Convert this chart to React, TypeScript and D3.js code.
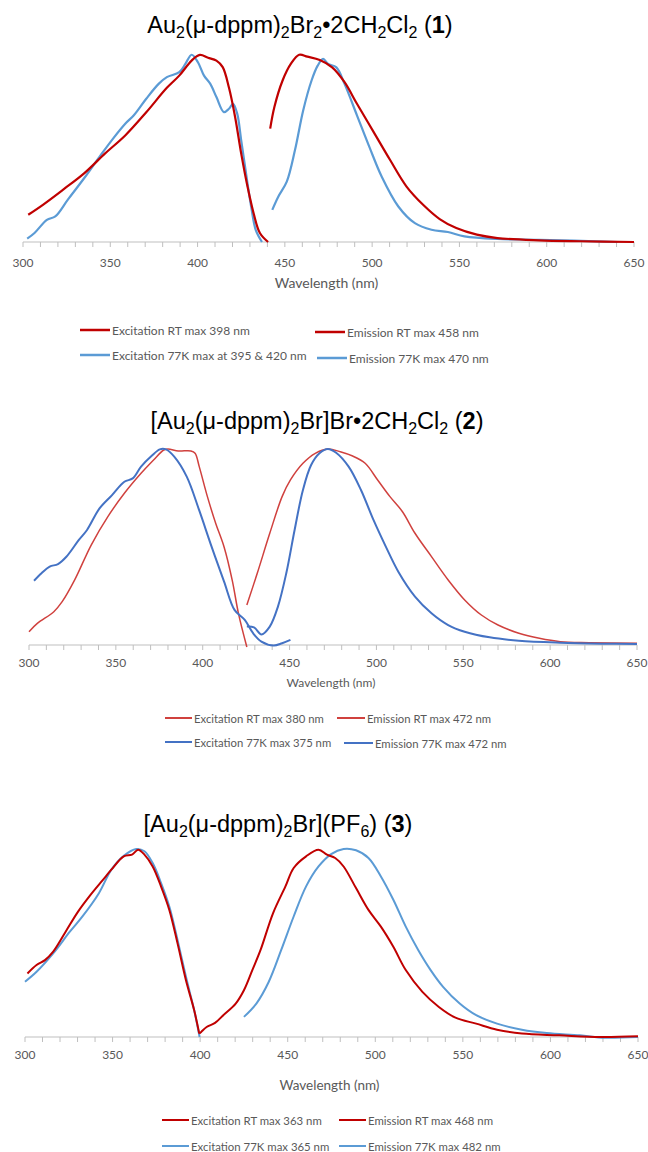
import React from "react";
import * as d3 from "d3";

type Pt = [number, number];

// wavelength (nm), normalised intensity
const p1ExcRT: Pt[] = [[303,0.145],[311.4,0.198],[323.2,0.28],[335,0.365],[346.9,0.47],[358.7,0.568],[370.6,0.69],[382.4,0.82],[389.5,0.885],[396.6,0.965],[401.3,0.995],[406,0.98],[410.8,0.965],[414.4,0.93],[418,0.82],[421.5,0.665],[425,0.47],[428.6,0.295],[432.1,0.153],[435.7,0.048],[440.4,0]];
const p1Exc77: Pt[] = [[302.4,0.018],[306.6,0.048],[313.7,0.118],[318.5,0.136],[325.6,0.224],[335,0.339],[344.5,0.462],[351.6,0.55],[358.7,0.63],[363.5,0.674],[370.6,0.762],[377.7,0.841],[382.4,0.877],[389.5,0.903],[393,0.947],[396.6,0.996],[400.2,0.956],[403.7,0.885],[407.3,0.841],[410.8,0.771],[415.1,0.691],[418,0.709],[420.3,0.735],[422.7,0.683],[425,0.541],[428.6,0.312],[431,0.171],[433.3,0.065],[436.9,0]];
const p1EmRT: Pt[] = [[441.6,0.603],[444,0.718],[448.7,0.859],[453.4,0.947],[458.2,0.996],[462.9,0.986],[470,0.968],[477.1,0.929],[484.2,0.85],[491.3,0.735],[500.8,0.586],[510.3,0.436],[519.7,0.295],[529.2,0.198],[538.7,0.122],[548.2,0.074],[560,0.039],[571.8,0.021],[595.5,0.009],[619.2,0.004],[650,0]];
const p1Em77: Pt[] = [[442.8,0.171],[446.3,0.242],[451.1,0.321],[455.8,0.489],[460.5,0.7],[465.3,0.859],[468.8,0.938],[471.9,0.974],[474.8,0.947],[479.5,0.929],[484.2,0.841],[491.3,0.674],[498.4,0.506],[505.5,0.347],[515,0.189],[524.5,0.1],[534,0.065],[543.4,0.053],[552.9,0.03],[571.8,0.016],[595.5,0.012],[640.5,0]];

const p2ExcRT: Pt[] = [[300,0.068],[304.8,0.11],[314.3,0.17],[319.1,0.221],[326.3,0.332],[335.8,0.51],[345.4,0.655],[354.9,0.774],[364.5,0.876],[371.7,0.944],[377.6,0.995],[380,1],[386,0.99],[393.2,0.99],[395.6,0.978],[398,0.91],[402.7,0.757],[407.5,0.62],[412.3,0.5],[417,0.33],[420.6,0.16],[425.4,-0.01]];
const p2Exc77: Pt[] = [[302.9,0.328],[307.2,0.366],[311.9,0.4],[316.7,0.413],[321.5,0.45],[328.7,0.536],[333.4,0.587],[340.6,0.697],[347.8,0.765],[354.9,0.833],[359.7,0.85],[364.5,0.91],[370.5,0.964],[375.3,0.998],[378.8,0.998],[383.6,0.961],[390.8,0.859],[397.9,0.689],[405.1,0.502],[412.3,0.323],[418.3,0.179],[424.2,0.128],[429,0.06],[433.8,0.017],[440.9,-0.003],[445.7,0.009],[450.5,0.026]];
const p2EmRT: Pt[] = [[425.4,0.204],[431.4,0.366],[438.6,0.57],[445.7,0.757],[450.5,0.842],[457.7,0.927],[464.8,0.978],[472,1],[479.2,0.986],[486.3,0.964],[493.5,0.927],[500.7,0.842],[507.8,0.757],[515,0.68],[522.2,0.57],[531.7,0.451],[541.3,0.332],[550.8,0.23],[560.4,0.153],[570,0.102],[582,0.06],[593.8,0.034],[605.8,0.017],[622.5,0.012],[650,0.009]];
const p2Em77: Pt[] = [[425.4,0.094],[429.5,0.09],[433.8,0.054],[438.6,0.094],[443.3,0.196],[448.1,0.366],[452.9,0.587],[457.7,0.791],[462.4,0.918],[467.2,0.978],[472,1],[476.8,0.981],[484,0.91],[491.1,0.791],[498.3,0.638],[505.4,0.502],[512.6,0.374],[522.2,0.247],[531.7,0.162],[541.3,0.102],[550.8,0.068],[565.2,0.039],[582,0.022],[605.8,0.012],[629.7,0.007],[650,0.005]];

const p3ExcRT: Pt[] = [[301.4,0.338],[306.6,0.383],[311.4,0.409],[316.1,0.454],[323.2,0.56],[330.3,0.667],[337.4,0.756],[344.5,0.836],[349.3,0.89],[356.4,0.961],[361.1,0.97],[364.6,0.996],[368.2,0.97],[372.9,0.907],[377.7,0.8],[382.4,0.676],[387.1,0.498],[391.9,0.302],[396.6,0.142],[399.5,0.018]];
const p3EmRT: Pt[] = [[399.5,0.018],[400.6,0.027],[403.7,0.053],[408.5,0.075],[413.2,0.116],[420.3,0.178],[425,0.249],[429.8,0.356],[434.5,0.463],[441.6,0.658],[448.7,0.801],[453.4,0.899],[460.5,0.961],[467.6,0.996],[472.4,0.97],[477.1,0.952],[481.9,0.907],[489,0.792],[496.1,0.676],[503.2,0.587],[510.3,0.48],[517.4,0.356],[526.9,0.24],[536.3,0.16],[545.8,0.103],[557.6,0.071],[569.5,0.039],[583.7,0.018],[605,0.009],[628.7,0],[650,0.004]];
const p3Exc77: Pt[] = [[300,0.294],[306.6,0.347],[316.1,0.445],[325.6,0.56],[332.7,0.64],[342.2,0.765],[349.3,0.89],[356.4,0.964],[363.5,1],[368.2,0.988],[372.9,0.925],[377.7,0.819],[382.4,0.694],[387.1,0.516],[391.9,0.32],[396.6,0.142],[399.7,0]];
const p3Em77: Pt[] = [[425,0.107],[432.1,0.178],[439.2,0.294],[446.3,0.463],[453.4,0.641],[460.5,0.801],[467.6,0.907],[474.8,0.973],[481.9,1],[489,0.993],[496.1,0.952],[503.2,0.854],[510.3,0.73],[517.4,0.587],[524.5,0.463],[531.6,0.356],[538.7,0.267],[548.2,0.178],[557.6,0.116],[569.5,0.071],[583.7,0.039],[597.9,0.021],[616.8,0.009],[631,-0.004],[650,0]];

const xTicks = [300, 350, 400, 450, 500, 550, 600, 650];

const legend1 = ["Excitation RT max 398 nm", "Emission RT max 458 nm", "Excitation 77K max at 395 & 420 nm", "Emission 77K max 470 nm"];
const legend2 = ["Excitation RT max 380 nm", "Emission RT max 472 nm", "Excitation 77K max 375 nm", "Emission 77K max 472 nm"];
const legend3 = ["Excitation RT max 363 nm", "Emission RT max 468 nm", "Excitation 77K max 365 nm", "Emission 77K max 482 nm"];

type Seg = { t: string; sub?: boolean; b?: boolean };
const title1: Seg[] = [{t:"Au"},{t:"2",sub:true},{t:"(μ-dppm)"},{t:"2",sub:true},{t:"Br"},{t:"2",sub:true},{t:"•2CH"},{t:"2",sub:true},{t:"Cl"},{t:"2",sub:true},{t:" ("},{t:"1",b:true},{t:")"}];
const title2: Seg[] = [{t:"[Au"},{t:"2",sub:true},{t:"(μ-dppm)"},{t:"2",sub:true},{t:"Br]Br•2CH"},{t:"2",sub:true},{t:"Cl"},{t:"2",sub:true},{t:" ("},{t:"2",b:true},{t:")"}];
const title3: Seg[] = [{t:"[Au"},{t:"2",sub:true},{t:"(μ-dppm)"},{t:"2",sub:true},{t:"Br](PF"},{t:"6",sub:true},{t:") ("},{t:"3",b:true},{t:")"}];

const RED = "#c00000";
const BLUE = "#5b9bd5";
const LFONT = "Lato, 'Open Sans', sans-serif";

function Title({ segs, x, y }: { segs: Seg[]; x: number; y: number }) {
  let prevSub = false;
  return (
    <text x={x} y={y} textAnchor="middle" fontFamily="'Liberation Sans', Arial, sans-serif" fontSize={23.5} fill="#000">
      {segs.map((s, i) => {
        const dy = s.sub && !prevSub ? 5 : !s.sub && prevSub ? -5 : 0;
        prevSub = !!s.sub;
        return (
          <tspan key={i} dy={dy} fontSize={s.sub ? 16 : 23.5} fontWeight={s.b ? "bold" : "normal"}>{s.t}</tspan>
        );
      })}
    </text>
  );
}

type Series = { data: Pt[]; color: string; width: number };
type LegendItem = { text: string; color: string; x: number; y: number; len: number };

function Panel(props: {
  title: Seg[]; titleX: number; titleY: number;
  x0: number; x1: number; yBase: number; yPeak: number;
  tickY: number; labelY: number; labelSize: number;
  series: Series[]; legend: LegendItem[]; legendWidth: number; legendSize: number;
}) {
  const x = d3.scaleLinear().domain([300, 650]).range([props.x0, props.x1]);
  const y = d3.scaleLinear().domain([0, 1]).range([props.yBase, props.yPeak]);
  const line = d3.line<Pt>().x(d => x(d[0])).y(d => y(d[1])).curve(d3.curveCatmullRom.alpha(0.5));
  const minor = d3.range(300, 651, 10);
  return (
    <g>
      <Title segs={props.title} x={props.titleX} y={props.titleY} />
      <line x1={x(300)} x2={x(650)} y1={props.yBase} y2={props.yBase} stroke="#bfbfbf" strokeWidth={1} />
      {minor.map(m => (
        <line key={m} x1={x(m)} x2={x(m)} y1={props.yBase} y2={props.yBase + 5} stroke="#bfbfbf" strokeWidth={1} />
      ))}
      {xTicks.map(t => (
        <text key={t} x={x(t)} y={props.tickY} textAnchor="middle" fontFamily={LFONT} fontSize={12} fill="#595959">{t}</text>
      ))}
      <text x={(x(300) + x(650)) / 2 - 2} y={props.labelY} textAnchor="middle" fontFamily={LFONT} fontSize={props.labelSize} fill="#595959">Wavelength (nm)</text>
      {props.series.map((s, i) => (
        <path key={i} d={line(s.data) || ""} fill="none" stroke={s.color} strokeWidth={s.width} strokeLinejoin="round" />
      ))}
      {props.legend.map((l, i) => (
        <g key={i}>
          <line x1={l.x} x2={l.x + l.len} y1={l.y} y2={l.y} stroke={l.color} strokeWidth={props.legendWidth} />
          <text x={l.x + l.len + 2} y={l.y + 4.5} fontFamily={LFONT} fontSize={props.legendSize} fill="#595959">{l.text}</text>
        </g>
      ))}
    </g>
  );
}

export default function App() {
  const red2 = "#d0413e";
  const blue2 = "#4472c4";
  return (
    <svg width={648} height={1152} style={{ position: "absolute", left: 0, top: 0, background: "#fff" }}>
      <rect width={648} height={1152} fill="#fff" />
      <Panel
        title={title1} titleX={300} titleY={33}
        x0={23} x1={634} yBase={242} yPeak={54}
        tickY={267} labelY={288} labelSize={14}
        series={[
          { data: p1Exc77, color: BLUE, width: 2.2 },
          { data: p1ExcRT, color: RED, width: 2.2 },
          { data: p1Em77, color: BLUE, width: 2.2 },
          { data: p1EmRT, color: RED, width: 2.2 },
        ]}
        legend={[
          { text: legend1[0], color: RED, x: 80, y: 330, len: 30 },
          { text: legend1[1], color: RED, x: 315, y: 332, len: 30 },
          { text: legend1[2], color: BLUE, x: 80, y: 355, len: 30 },
          { text: legend1[3], color: BLUE, x: 317, y: 358, len: 30 },
        ]}
        legendWidth={2.5}
        legendSize={12}
      />
      <Panel
        title={title2} titleX={317} titleY={429}
        x0={29} x1={637} yBase={645} yPeak={449}
        tickY={667} labelY={687} labelSize={12}
        series={[
          { data: p2ExcRT, color: red2, width: 1.5 },
          { data: p2EmRT, color: red2, width: 1.5 },
          { data: p2Exc77, color: blue2, width: 2 },
          { data: p2Em77, color: blue2, width: 2 },
        ]}
        legend={[
          { text: legend2[0], color: red2, x: 165, y: 718, len: 27 },
          { text: legend2[1], color: red2, x: 337, y: 718, len: 28 },
          { text: legend2[2], color: blue2, x: 165, y: 742, len: 27 },
          { text: legend2[3], color: blue2, x: 344, y: 743, len: 29 },
        ]}
        legendWidth={2}
        legendSize={11.3}
      />
      <Panel
        title={title3} titleX={278} titleY={832}
        x0={25} x1={638} yBase={1037} yPeak={849}
        tickY={1059} labelY={1090} labelSize={13.5}
        series={[
          { data: p3Exc77, color: BLUE, width: 2 },
          { data: p3Em77, color: BLUE, width: 2 },
          { data: p3ExcRT, color: RED, width: 2 },
          { data: p3EmRT, color: RED, width: 2 },
        ]}
        legend={[
          { text: legend3[0], color: RED, x: 162, y: 1120, len: 27 },
          { text: legend3[1], color: RED, x: 339, y: 1120, len: 27 },
          { text: legend3[2], color: BLUE, x: 162, y: 1146, len: 27 },
          { text: legend3[3], color: BLUE, x: 339, y: 1146, len: 27 },
        ]}
        legendWidth={2}
        legendSize={11.4}
      />
    </svg>
  );
}
